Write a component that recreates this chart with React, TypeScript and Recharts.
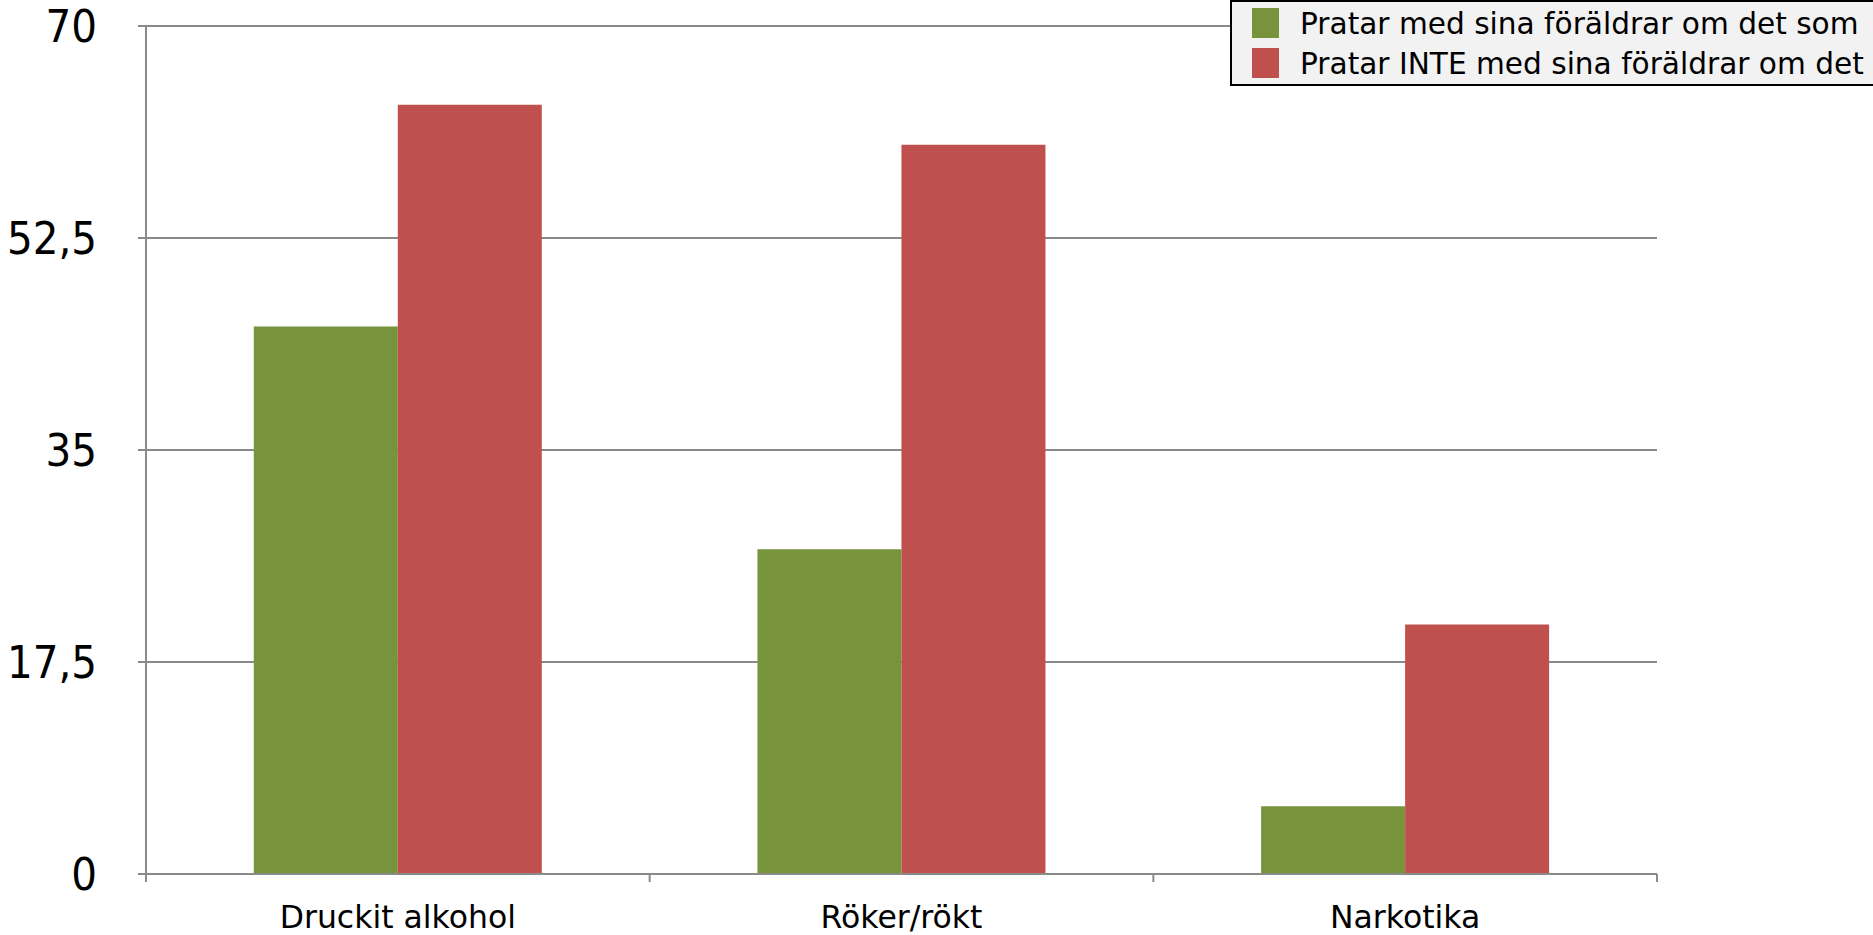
import React from 'react';
import { BarChart, Bar, XAxis, YAxis, CartesianGrid, Legend } from 'recharts';

const categories = ['Druckit alkohol', 'Röker/rökt', 'Narkotika'];
const pratarMed = [45.2, 26.8, 5.6];
const pratarInte = [63.5, 60.2, 20.6];
const yTicks = [0, 17.5, 35, 52.5, 70];
const seriesNames = [
  'Pratar med sina föräldrar om det som',
  'Pratar INTE med sina föräldrar om det',
];
const seriesColors = ['#77933C', '#C0504D'];

const data = categories.map((c, i) => ({
  name: c,
  med: pratarMed[i],
  inte: pratarInte[i],
}));

const AXIS_COLOR = '#8a8a8a';

const XTick = (props: any) => {
  const { x, y, payload, index, visibleTicksCount } = props;
  const off = payload && typeof payload.offset === 'number' ? payload.offset : 0;
  const isLast = index === visibleTicksCount - 1;
  return (
    <g>
      <line x1={x - off} y1={y} x2={x - off} y2={y + 8} stroke={AXIS_COLOR} strokeWidth={2} />
      {isLast && (
        <line x1={x + off} y1={y} x2={x + off} y2={y + 8} stroke={AXIS_COLOR} strokeWidth={2} />
      )}
      <text
        x={x}
        y={y + 54}
        textAnchor="middle"
        fontFamily="DejaVu Sans"
        fontSize={31.5}
        fill="#000"
      >
        {payload.value}
      </text>
    </g>
  );
};

const LegendContent = () => (
  <div
    style={{
      position: 'relative',
      width: 700,
      height: 82,
      background: '#F2F2F2',
      border: '2px solid #000',
      fontFamily: 'DejaVu Sans',
      fontSize: 29.6,
      color: '#000',
    }}
  >
    {seriesNames.map((n, i) => (
      <React.Fragment key={n}>
        <div
          style={{
            position: 'absolute',
            left: 20,
            top: i === 0 ? 6.3 : 46.3,
            width: 27,
            height: 29.4,
            background: seriesColors[i],
          }}
        />
        <div
          style={{
            position: 'absolute',
            left: 68,
            top: i === 0 ? 2 : 41.7,
            lineHeight: '40px',
            whiteSpace: 'nowrap',
          }}
        >
          {n}
        </div>
      </React.Fragment>
    ))}
  </div>
);

export default function App() {
  return (
    <div
      style={{
        position: 'absolute',
        left: 0,
        top: 0,
        width: 1873,
        height: 935,
        overflow: 'hidden',
        background: '#fff',
      }}
    >
      <BarChart
        width={1873}
        height={935}
        data={data}
        margin={{ top: 26, right: 216, bottom: 0, left: 0 }}
        barGap={0}
        barCategoryGap="21.4%"
      >
        <CartesianGrid vertical={false} stroke={AXIS_COLOR} strokeWidth={2} />
        <XAxis
          dataKey="name"
          height={61}
          axisLine={{ stroke: AXIS_COLOR, strokeWidth: 2 }}
          tickLine={false}
          tickSize={0}
          tickMargin={0}
          tick={<XTick />}
          interval={0}
        />
        <YAxis
          width={146}
          domain={[0, 70]}
          ticks={yTicks}
          interval={0}
          axisLine={{ stroke: AXIS_COLOR, strokeWidth: 2 }}
          tickLine={{ stroke: AXIS_COLOR, strokeWidth: 2 }}
          tickSize={8}
          tickMargin={41}
          tickFormatter={(v: number) => String(v).replace('.', ',')}
          tick={{ fontSize: 45, fontFamily: 'DejaVu Sans Condensed', fill: '#000' }}
        />
        <Legend
          layout="horizontal"
          verticalAlign="middle"
          align="center"
          content={<LegendContent />}
          wrapperStyle={{ left: 1230, top: 0, width: 704, height: 86 }}
        />
        <Bar dataKey="med" name={seriesNames[0]} fill={seriesColors[0]} isAnimationActive={false} />
        <Bar dataKey="inte" name={seriesNames[1]} fill={seriesColors[1]} isAnimationActive={false} />
      </BarChart>
    </div>
  );
}
